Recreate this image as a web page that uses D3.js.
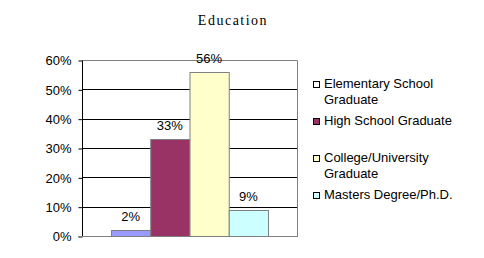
<!DOCTYPE html>
<html>
<head>
<meta charset="utf-8">
<script src="https://cdn.jsdelivr.net/npm/d3@7"></script>
<style>
  body { margin: 0; background: #fff; }
  text { font-family: "Liberation Sans", Arial, sans-serif; font-size: 13px; fill: #000; }
</style>
</head>
<body>
<svg width="484" height="258"></svg>
<script>
// chart data
var categories = ['Elementary School Graduate', 'High School Graduate', 'College/University Graduate', 'Masters Degree/Ph.D.'];
var values = [0.02, 0.33, 0.56, 0.09];
var colors = ['#9999ff', '#993366', '#ffffcc', '#ccffff'];
var legendColors = ['#ffffff', '#993366', '#ffffcc', '#ccffff'];
var legendLines = [['Elementary School', 'Graduate'], ['High School Graduate'], ['College/University', 'Graduate'], ['Masters Degree/Ph.D.']];
var yTicks = [0, 0.1, 0.2, 0.3, 0.4, 0.5, 0.6];

var svg = d3.select('svg');

// plot area
var plotLeft = 82, plotRight = 297, plotTop = 60, plotBottom = 236;

var y = d3.scaleLinear().domain([0, 0.6]).range([plotBottom, plotTop]);
var x = d3.scaleBand().domain(categories).range([111, 268]).padding(0);

// title
svg.append('text')
  .attr('x', 233).attr('y', 25)
  .attr('text-anchor', 'middle')
  .style('font-family', '"Liberation Serif", "Times New Roman", serif')
  .style('font-size', '14px')
  .style('letter-spacing', '1.5px')
  .text('Education');

// gridlines
svg.append('g').selectAll('line')
  .data(yTicks.slice(1, -1))
  .enter().append('line')
  .attr('x1', plotLeft).attr('x2', plotRight)
  .attr('y1', function(d) { return Math.round(y(d)) + 0.5; })
  .attr('y2', function(d) { return Math.round(y(d)) + 0.5; })
  .attr('stroke', '#000');

// plot border (top and right gray)
svg.append('path')
  .attr('d', 'M' + (plotLeft + 0.5) + ',' + (plotTop + 0.5) + 'H' + (plotRight + 0.5) + 'V' + (plotBottom + 0.5))
  .attr('fill', 'none')
  .attr('stroke', '#808080');

// bars
svg.append('g').selectAll('rect')
  .data(values)
  .enter().append('rect')
  .attr('x', function(d, i) { return x(categories[i]) + 0.5; })
  .attr('y', function(d) { return Math.round(y(d)) + 0.5; })
  .attr('width', x.bandwidth())
  .attr('height', function(d) { return plotBottom - Math.round(y(d)); })
  .attr('fill', function(d, i) { return colors[i]; })
  .attr('stroke', '#808080');

// data labels
svg.append('g').selectAll('text')
  .data(values)
  .enter().append('text')
  .attr('x', function(d, i) { return x(categories[i]) + x.bandwidth() / 2; })
  .attr('y', function(d) { return y(d) - 9; })
  .attr('text-anchor', 'middle')
  .text(function(d) { return Math.round(d * 100) + '%'; });

// y axis
var yAxis = d3.axisLeft(y)
  .tickValues(yTicks)
  .tickFormat(d3.format('.0%'))
  .tickSize(4)
  .tickPadding(7);

var yg = svg.append('g')
  .attr('transform', 'translate(' + (plotLeft + 0.5) + ',0.5)')
  .call(yAxis);
yg.select('.domain').attr('stroke', '#000').attr('d', 'M0,' + plotTop + 'V' + plotBottom);
yg.selectAll('.tick line').attr('stroke', '#000');
yg.selectAll('.tick text')
  .style('font-family', '"Liberation Sans", Arial, sans-serif')
  .style('font-size', '13px')
  .attr('fill', '#000');

// bottom axis line
svg.append('line')
  .attr('x1', plotLeft - 4).attr('x2', plotRight + 1)
  .attr('y1', plotBottom + 0.5).attr('y2', plotBottom + 0.5)
  .attr('stroke', '#808080');

// legend
var legendY = [88, 125, 162, 199];
var lg = svg.append('g').selectAll('g')
  .data(categories)
  .enter().append('g')
  .attr('transform', function(d, i) { return 'translate(313,' + legendY[i] + ')'; });

lg.append('rect')
  .attr('x', 0.5).attr('y', -6.5)
  .attr('width', 6).attr('height', 6)
  .attr('fill', function(d, i) { return legendColors[i]; })
  .attr('stroke', '#000');

lg.each(function(d, i) {
  var t = d3.select(this).append('text').attr('x', 11).attr('y', 0);
  legendLines[i].forEach(function(line, j) {
    t.append('tspan').attr('x', 11).attr('dy', j === 0 ? 0 : 16).text(line);
  });
});
</script>
</body>
</html>
